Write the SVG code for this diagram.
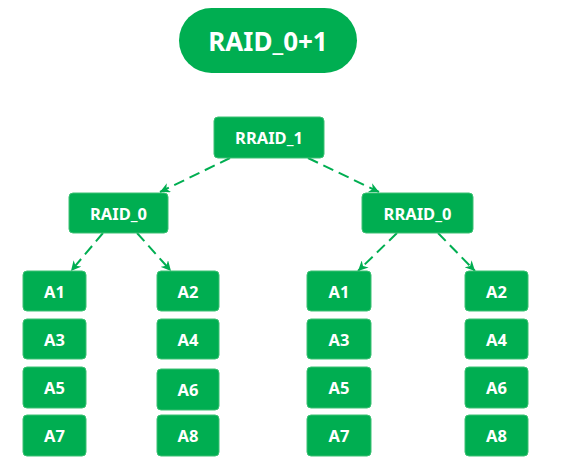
<svg xmlns="http://www.w3.org/2000/svg" width="564" height="464" viewBox="0 0 564 464">
<style>
.n{fill:#00AE51;stroke:#3cc174;stroke-width:1}
.t{fill:#fff;font-family:"Noto Sans","Open Sans",sans-serif;font-weight:bold;font-size:16.5px;text-anchor:middle;dominant-baseline:central}
.c{stroke:#00AE51;stroke-width:2;stroke-dasharray:11 6;fill:none;marker-end:url(#ah)}
</style>
<defs>
<marker id="ah" viewBox="0 0 10 10" refX="10" refY="5" markerWidth="10" markerHeight="10" orient="auto" markerUnits="userSpaceOnUse">
<path d="M0,0 L10,5 L0,10 L3,5 Z" fill="#00AE51"/>
</marker>
</defs>
<rect width="564" height="464" fill="#fff"/>
<g id="title"><rect x="179" y="8" width="178" height="65" rx="32.5" fill="#00AE51"/><text x="268" y="41" class="t" style="font-size:26px">RAID_0+1</text></g>
<g id="connectors">
<line class="c" x1="230" y1="158" x2="160" y2="192"/>
<line class="c" x1="308" y1="158" x2="379" y2="192"/>
<line class="c" x1="103" y1="233" x2="71" y2="271"/>
<line class="c" x1="137" y1="233" x2="171" y2="271"/>
<line class="c" x1="397" y1="233" x2="358" y2="271"/>
<line class="c" x1="438" y1="233" x2="475" y2="271"/>
</g>
<g id="rraid1"><rect class="n" x="214" y="117" width="110" height="41" rx="4"/><text class="t" x="269" y="137.5">RRAID_1</text></g>
<g id="raid0"><rect class="n" x="69" y="193" width="99" height="40" rx="4"/><text class="t" x="118.5" y="213">RAID_0</text></g>
<g id="rraid0"><rect class="n" x="362" y="193" width="111" height="40" rx="4"/><text class="t" x="417.5" y="213">RRAID_0</text></g>
<g id="l-a1"><rect class="n" x="23" y="271" width="63" height="40" rx="4"/><text class="t" x="54.5" y="291">A1</text></g>
<g id="l-a3"><rect class="n" x="23" y="319" width="63" height="40" rx="4"/><text class="t" x="54.5" y="339">A3</text></g>
<g id="l-a5"><rect class="n" x="23" y="367" width="63" height="41" rx="4"/><text class="t" x="54.5" y="387">A5</text></g>
<g id="l-a7"><rect class="n" x="23" y="415" width="63" height="41" rx="4"/><text class="t" x="54.5" y="435.5">A7</text></g>
<g id="l-a2"><rect class="n" x="157" y="271" width="62" height="40" rx="4"/><text class="t" x="188" y="291">A2</text></g>
<g id="l-a4"><rect class="n" x="157" y="319" width="62" height="40" rx="4"/><text class="t" x="188" y="339">A4</text></g>
<g id="l-a6"><rect class="n" x="157" y="369" width="62" height="41" rx="4"/><text class="t" x="188" y="389.5">A6</text></g>
<g id="l-a8"><rect class="n" x="157" y="415" width="62" height="41" rx="4"/><text class="t" x="188" y="435.5">A8</text></g>
<g id="r-a1"><rect class="n" x="307" y="271" width="64" height="40" rx="4"/><text class="t" x="339" y="291">A1</text></g>
<g id="r-a3"><rect class="n" x="307" y="319" width="64" height="40" rx="4"/><text class="t" x="339" y="339">A3</text></g>
<g id="r-a5"><rect class="n" x="307" y="367" width="64" height="41" rx="4"/><text class="t" x="339" y="387">A5</text></g>
<g id="r-a7"><rect class="n" x="307" y="415" width="64" height="41" rx="4"/><text class="t" x="339" y="435.5">A7</text></g>
<g id="r-a2"><rect class="n" x="465" y="271" width="63" height="40" rx="4"/><text class="t" x="496.5" y="291">A2</text></g>
<g id="r-a4"><rect class="n" x="465" y="319" width="63" height="40" rx="4"/><text class="t" x="496.5" y="339">A4</text></g>
<g id="r-a6"><rect class="n" x="465" y="367" width="63" height="41" rx="4"/><text class="t" x="496.5" y="387">A6</text></g>
<g id="r-a8"><rect class="n" x="465" y="415" width="63" height="41" rx="4"/><text class="t" x="496.5" y="435.5">A8</text></g>
</svg>
